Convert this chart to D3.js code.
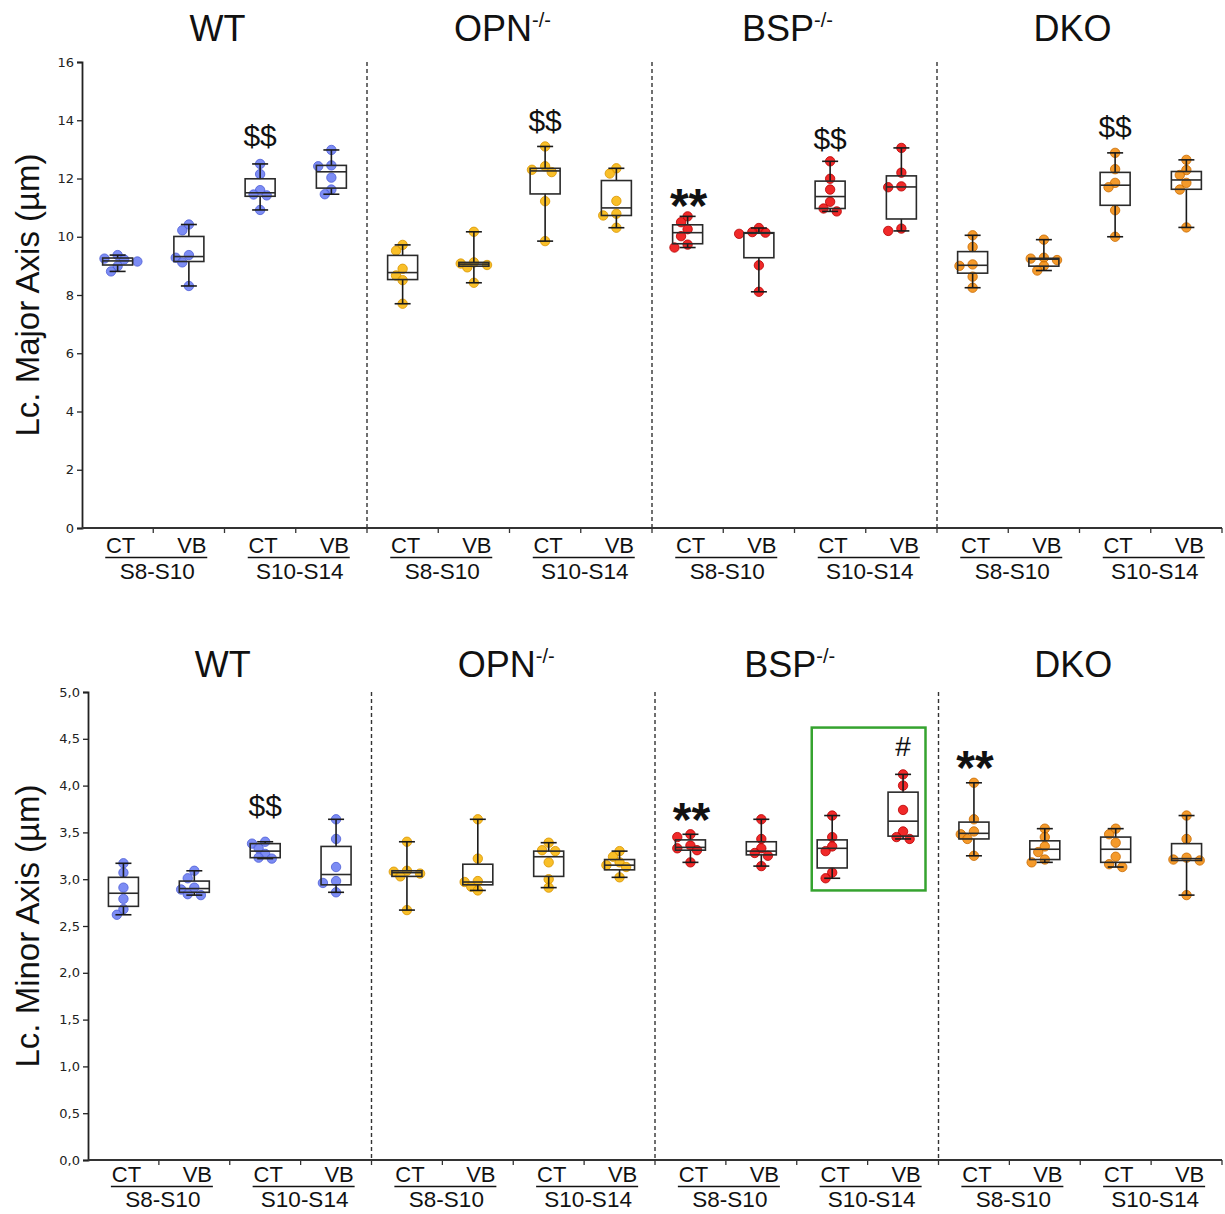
<!DOCTYPE html>
<html><head><meta charset="utf-8">
<script src="https://cdn.jsdelivr.net/npm/d3@7"></script>
<style>body{margin:0;background:#fff}svg{display:block}</style>
</head><body>
<svg id="c" width="1225" height="1214"></svg>
<script>
// ---------- DATA ----------
const groups = ["WT", "OPN", "BSP", "DKO"];
const groupSup = ["", "-/-", "-/-", ""];
const conditions = ["CT", "VB", "CT", "VB"];
const stages = ["S8-S10", "S10-S14"];
const groupColors = ["#6a7cf3", "#f8b60a", "#ee0b0b", "#f28c0e"];
const groupStroke = ["#4d5dd6", "#d89400", "#b80000", "#c86a00"];

// Major axis (µm): 16 boxes in order WT(CT S8,VB S8,CT S10,VB S10), OPN..., BSP..., DKO...
const majorPoints = [
  [9.37, 9.25, 9.22, 9.15, 8.99, 8.81],
  [10.42, 10.22, 9.37, 9.28, 9.12, 8.31],
  [12.5, 12.15, 11.6, 11.45, 11.42, 10.92],
  [12.98, 12.45, 12.42, 12.03, 11.62, 11.46],
  [9.72, 9.52, 8.9, 8.67, 8.51, 7.70],
  [10.17, 9.12, 9.08, 9.03, 8.95, 8.42],
  [13.1, 12.42, 12.3, 12.22, 11.22, 9.85],
  [12.35, 12.17, 11.23, 10.79, 10.73, 10.31],
  [10.7, 10.5, 10.26, 10.02, 9.73, 9.63],
  [10.3, 10.16, 10.14, 10.1, 9.02, 8.11],
  [12.59, 11.99, 11.62, 11.2, 10.97, 10.87],
  [13.05, 12.2, 11.73, 11.7, 10.28, 10.2],
  [10.05, 9.65, 9.05, 9.0, 8.63, 8.25],
  [9.9, 9.28, 9.25, 9.2, 9.0, 8.84],
  [12.88, 12.32, 11.85, 11.7, 10.91, 10.0],
  [12.64, 12.29, 12.12, 11.85, 11.62, 10.32]
];
const majorQ1 = [9.03, 9.15, 11.39, 11.67, 8.53, 8.99, 11.47, 10.73, 9.76, 9.28, 10.97, 10.61, 8.75, 8.99, 11.08, 11.63];
const majorMedian = [9.17, 9.32, 11.51, 12.23, 8.77, 9.06, 12.26, 10.99, 10.14, 10.12, 11.38, 11.71, 9.02, 9.23, 11.77, 11.95];
const majorQ3 = [9.27, 10.01, 11.99, 12.45, 9.36, 9.12, 12.35, 11.93, 10.41, 10.14, 11.91, 12.09, 9.49, 9.26, 12.21, 12.24];
const majorMarks = [
  {box: 2, text: "$$", value: 13.4},
  {box: 6, text: "$$", value: 13.9},
  {box: 8, text: "**", value: 11.3},
  {box: 10, text: "$$", value: 13.3},
  {box: 14, text: "$$", value: 13.68}
];
const majorTicks = [0, 2, 4, 6, 8, 10, 12, 14, 16];

// Minor axis (µm)
const minorPoints = [
  [3.17, 3.07, 2.91, 2.79, 2.68, 2.62],
  [3.09, 3.01, 2.91, 2.89, 2.84, 2.83],
  [3.4, 3.38, 3.33, 3.27, 3.23, 3.22],
  [3.64, 3.43, 3.13, 2.98, 2.96, 2.86],
  [3.4, 3.09, 3.08, 3.06, 3.03, 2.67],
  [3.64, 3.22, 2.98, 2.97, 2.92, 2.88],
  [3.39, 3.31, 3.3, 3.18, 3.0, 2.91],
  [3.3, 3.24, 3.18, 3.15, 3.13, 3.02],
  [3.48, 3.45, 3.36, 3.33, 3.31, 3.18],
  [3.64, 3.43, 3.33, 3.28, 3.25, 3.14],
  [3.68, 3.45, 3.35, 3.30, 3.07, 3.01],
  [4.12, 4.0, 3.74, 3.51, 3.45, 3.43],
  [4.03, 3.64, 3.51, 3.48, 3.43, 3.25],
  [3.54, 3.45, 3.35, 3.29, 3.21, 3.18],
  [3.54, 3.48, 3.39, 3.24, 3.16, 3.13],
  [3.68, 3.43, 3.23, 3.21, 3.2, 2.83]
];
const minorQ1 = [2.71, 2.86, 3.23, 2.94, 3.03, 2.94, 3.03, 3.10, 3.31, 3.26, 3.12, 3.46, 3.43, 3.21, 3.18, 3.20];
const minorMedian = [2.85, 2.90, 3.30, 3.05, 3.07, 2.97, 3.24, 3.15, 3.34, 3.30, 3.33, 3.62, 3.49, 3.32, 3.32, 3.22];
const minorQ3 = [3.02, 2.98, 3.38, 3.35, 3.09, 3.16, 3.30, 3.21, 3.42, 3.40, 3.42, 3.93, 3.61, 3.41, 3.45, 3.38];
const minorMarks = [
  {box: 2, text: "$$", value: 3.76},
  {box: 8, text: "**", value: 3.7},
  {box: 11, text: "#", value: 4.4},
  {box: 12, text: "**", value: 4.26}
];
const minorTicks = [0, 0.5, 1, 1.5, 2, 2.5, 3, 3.5, 4, 4.5, 5];
const minorHighlight = {from: 10, to: 11, top: 4.62, bottom: 2.88};

// ---------- DRAW ----------
const svg = d3.select("#c");
const FONT = "'Liberation Sans', Arial, sans-serif";

function panel(cfg) {
  const g = svg.append("g");
  const n = groups.length * 4;
  const x = d3.scaleBand().domain(d3.range(n)).range([cfg.x0, cfg.x1]).padding(0);
  const y = d3.scaleLinear().domain(cfg.domain).range([cfg.yBottom, cfg.yTop]);
  const bw = x.bandwidth();
  const gw = bw * 4;

  // y axis
  const yAxis = d3.axisLeft(y).tickValues(cfg.ticks).tickSize(5).tickPadding(3).tickFormat(cfg.fmt);
  const ya = g.append("g").attr("transform", `translate(${cfg.x0},0)`).call(yAxis);
  ya.select(".domain").attr("stroke", "#222").attr("stroke-width", 1.8);
  ya.selectAll(".tick line").attr("stroke", "#222").attr("stroke-width", 1.3);
  ya.selectAll(".tick text").attr("font-family", "'DejaVu Sans', Verdana, sans-serif").attr("font-size", 13).attr("fill", "#222");

  // x axis line with ticks at band boundaries
  g.append("line").attr("x1", cfg.x0).attr("x2", cfg.x1).attr("y1", cfg.yBottom).attr("y2", cfg.yBottom)
    .attr("stroke", "#333").attr("stroke-width", 1.8);
  g.selectAll(".xt").data(d3.range(1, n + 1)).join("line")
    .attr("x1", d => cfg.x0 + d * bw).attr("x2", d => cfg.x0 + d * bw)
    .attr("y1", cfg.yBottom).attr("y2", cfg.yBottom + 5)
    .attr("stroke", "#333").attr("stroke-width", 1.3);

  // dashed separators
  g.selectAll(".sep").data([1, 2, 3]).join("line")
    .attr("x1", d => cfg.x0 + d * gw).attr("x2", d => cfg.x0 + d * gw)
    .attr("y1", cfg.yTop).attr("y2", cfg.yBottom)
    .attr("stroke", "#333").attr("stroke-width", 1.4).attr("stroke-dasharray", "4,3");

  // group titles
  groups.forEach((name, gi) => {
    const t = g.append("text").attr("x", cfg.x0 + gi * gw + gw / 2 - 7).attr("y", cfg.titleY)
      .attr("text-anchor", "middle").attr("font-family", FONT).attr("font-size", 36).attr("fill", "#111");
    t.append("tspan").text(name);
    if (groupSup[gi]) t.append("tspan").attr("font-size", 20).attr("dy", -14).text(groupSup[gi]);
  });

  // category & stage labels
  for (let b = 0; b < n; b++) {
    g.append("text").attr("x", x(b) + bw / 2 + 3).attr("y", cfg.yBottom + cfg.catDy)
      .attr("text-anchor", "middle").attr("font-family", FONT).attr("font-size", 22).attr("fill", "#111")
      .text(conditions[b % 4]);
  }
  for (let p = 0; p < n / 2; p++) {
    const cx = x(p * 2) + bw + 3;
    g.append("line").attr("x1", cx - 51).attr("x2", cx + 51).attr("y1", cfg.yBottom + cfg.catDy + 4.5).attr("y2", cfg.yBottom + cfg.catDy + 4.5)
      .attr("stroke", "#111").attr("stroke-width", 1.5);
    g.append("text").attr("x", cx + 1).attr("y", cfg.yBottom + cfg.stageDy)
      .attr("text-anchor", "middle").attr("font-family", FONT).attr("font-size", 22.5).attr("fill", "#111")
      .text(stages[p % 2]);
  }

  // y title
  g.append("text").attr("transform", `translate(${cfg.titleX},${(cfg.yTop + cfg.yBottom) / 2}) rotate(-90)`)
    .attr("text-anchor", "middle").attr("dominant-baseline", "middle")
    .attr("font-family", FONT).attr("font-size", 33).attr("fill", "#111").text(cfg.yTitle);

  // highlight rectangle
  if (cfg.highlight) {
    const h = cfg.highlight;
    g.append("rect").attr("x", x(h.from) + 15).attr("y", y(h.top))
      .attr("width", x(h.to) + bw - 13 - (x(h.from) + 15)).attr("height", y(h.bottom) - y(h.top))
      .attr("fill", "none").attr("stroke", "#35a32f").attr("stroke-width", 2.5);
  }

  const boxW = 30, capW = 16, r = 4.7;
  for (let b = 0; b < n; b++) {
    const gi = Math.floor(b / 4);
    const cx = x(b) + bw / 2;
    const pts = cfg.points[b];
    const mn = d3.min(pts), mx = d3.max(pts);
    const bg = g.append("g");
    bg.append("rect").attr("x", cx - boxW / 2).attr("y", y(cfg.q3[b])).attr("width", boxW)
      .attr("height", y(cfg.q1[b]) - y(cfg.q3[b])).attr("fill", "#fff");
    const sorted = pts.map(v => ({v, py: y(v)})).sort((a, c) => a.py - c.py);
    const placed = [];
    const offs = [0, -1, 1, -2, 2, -3, 3];
    sorted.forEach(p => {
      for (const o of offs) {
        const px = cx + o * r * 1.4;
        if (placed.every(q => Math.hypot(q.px - px, q.py - p.py) > r * 1.6)) { p.px = px; break; }
      }
      if (p.px === undefined) p.px = cx;
      placed.push(p);
    });
    bg.selectAll("circle").data(placed).join("circle")
      .attr("cx", d => d.px).attr("cy", d => d.py).attr("r", r)
      .attr("fill", groupColors[gi]).attr("fill-opacity", 0.88)
      .attr("stroke", groupStroke[gi]).attr("stroke-width", 0.8);
    const st = "#1a1a1a";
    bg.append("line").attr("x1", cx).attr("x2", cx).attr("y1", y(mx)).attr("y2", y(cfg.q3[b])).attr("stroke", st).attr("stroke-width", 1.6);
    bg.append("line").attr("x1", cx).attr("x2", cx).attr("y1", y(cfg.q1[b])).attr("y2", y(mn)).attr("stroke", st).attr("stroke-width", 1.6);
    [mn, mx].forEach(v => bg.append("line").attr("x1", cx - capW / 2).attr("x2", cx + capW / 2)
      .attr("y1", y(v)).attr("y2", y(v)).attr("stroke", st).attr("stroke-width", 1.6));
    bg.append("rect").attr("x", cx - boxW / 2).attr("y", y(cfg.q3[b])).attr("width", boxW)
      .attr("height", y(cfg.q1[b]) - y(cfg.q3[b])).attr("fill", "none").attr("stroke", "#2a2a2a").attr("stroke-width", 1.6);
    bg.append("line").attr("x1", cx - boxW / 2).attr("x2", cx + boxW / 2)
      .attr("y1", y(cfg.median[b])).attr("y2", y(cfg.median[b])).attr("stroke", "#2a2a2a").attr("stroke-width", 1.6);
  }

  cfg.marks.forEach(m => {
    const cx = x(m.box) + bw / 2;
    const star = m.text === "**";
    g.append("text").attr("x", cx + (star ? 1 : 0)).attr("y", y(m.value))
      .attr("text-anchor", "middle").attr("dominant-baseline", "middle")
      .attr("font-family", FONT).attr("font-size", star ? 48 : (m.text === "#" ? 28 : 30))
      .attr("font-weight", star ? "bold" : "normal").attr("dy", star ? 10 : 0)
      .attr("fill", "#111").text(m.text);
  });
}

panel({
  x0: 82, x1: 1222, yTop: 62, yBottom: 528, domain: [0, 16], ticks: majorTicks,
  fmt: d3.format("d"), titleY: 41, titleX: 30, yTitle: "Lc. Major Axis (µm)",
  catDy: 25, stageDy: 51,
  points: majorPoints, q1: majorQ1, median: majorMedian, q3: majorQ3, marks: majorMarks
});
panel({
  x0: 88, x1: 1222, yTop: 692, yBottom: 1160, domain: [0, 5], ticks: minorTicks,
  fmt: v => d3.format(".1f")(v).replace(".", ","), titleY: 677, titleX: 30, yTitle: "Lc. Minor Axis (µm)",
  catDy: 22, stageDy: 47,
  points: minorPoints, q1: minorQ1, median: minorMedian, q3: minorQ3, marks: minorMarks,
  highlight: minorHighlight
});
</script>
</body></html>
